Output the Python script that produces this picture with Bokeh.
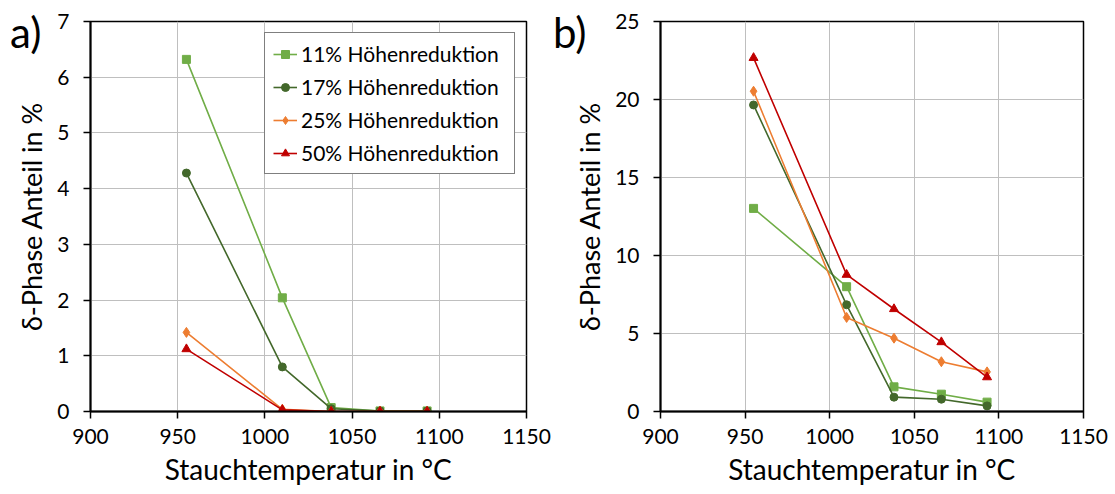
from bokeh.plotting import figure
from bokeh.layouts import row
from bokeh.models import Range1d, SingleIntervalTicker, Legend, LegendItem, Div
from bokeh.embed import file_html
from bokeh.resources import INLINE

# ---------------- data ----------------
temps = [955, 1010, 1038, 1066, 1093]
series_labels = ["11% Höhenreduktion", "17% Höhenreduktion",
                 "25% Höhenreduktion", "50% Höhenreduktion"]

a_11 = [6.32, 2.04, 0.07, 0.01, 0.01]
a_17 = [4.28, 0.80, 0.05, 0.01, 0.01]
a_25 = [1.42, 0.04, 0.00, 0.00, 0.00]
a_50 = [1.12, 0.03, 0.00, 0.00, 0.00]

b_11 = [13.02, 8.00, 1.58, 1.11, 0.60]
b_17 = [19.65, 6.84, 0.92, 0.79, 0.36]
b_25 = [20.53, 6.03, 4.70, 3.19, 2.54]
b_50 = [22.67, 8.77, 6.57, 4.45, 2.20]

x_title = "Stauchtemperatur in °C"
y_title = "δ-Phase Anteil in %"
panel_names = ["a)", "b)"]

colors = ["#70AD47", "#43682B", "#ED7D31", "#C00000"]
markers = ["square", "circle", "diamond", "triangle"]
msizes = [8, 8, 10, 9]
FONT = "Lato"


def make_panel(series, ymax, yint, width, left, right, show_legend):
    p = figure(width=width, height=494, output_backend="svg", toolbar_location=None,
               x_range=Range1d(900, 1150), y_range=Range1d(0, ymax),
               min_border_left=left, min_border_right=right,
               min_border_top=21, min_border_bottom=83)
    p.background_fill_color = "white"
    p.border_fill_color = "white"
    p.outline_line_color = "#000000"
    p.outline_line_width = 1.5

    p.xaxis.ticker = SingleIntervalTicker(interval=50)
    p.yaxis.ticker = SingleIntervalTicker(interval=yint)
    for ax in (p.xaxis[0], p.yaxis[0]):
        ax.axis_line_color = "#000000"
        ax.axis_line_width = 2
        ax.major_tick_line_color = "#000000"
        ax.major_tick_line_width = 1.5
        ax.major_tick_in = 0
        ax.major_tick_out = 7
        ax.minor_tick_line_color = None
        ax.major_label_text_font = FONT
        ax.major_label_text_font_size = "21px"
        ax.major_label_text_color = "#000000"
        ax.axis_label_text_font = FONT
        ax.axis_label_text_font_style = "normal"
        ax.axis_label_text_color = "#000000"
    p.xaxis.axis_label = x_title
    p.yaxis.axis_label = y_title
    p.xaxis.axis_label_text_font_size = "28px"
    p.yaxis.axis_label_text_font_size = "27px"
    p.xaxis.major_label_standoff = 10
    p.yaxis.major_label_standoff = 14
    p.xaxis.axis_label_standoff = 5
    p.yaxis.axis_label_standoff = 6

    p.xgrid.grid_line_color = "#BFBFBF"
    p.ygrid.grid_line_color = "#BFBFBF"
    p.xgrid.grid_line_width = 1
    p.ygrid.grid_line_width = 1

    items = []
    for vals, c, m, s, lab in zip(series, colors, markers, msizes, series_labels):
        ln = p.line(temps, vals, line_color=c, line_width=1.6)
        sc = p.scatter(temps, vals, marker=m, size=s, fill_color=c, line_color=c)
        items.append(LegendItem(label=lab, renderers=[ln, sc]))

    if show_legend:
        leg = Legend(items=items, location="top_right")
        leg.margin = 11
        leg.padding = 8
        leg.spacing = 8
        leg.glyph_width = 24
        leg.glyph_height = 20
        leg.label_height = 20
        leg.label_width = 205
        leg.label_standoff = 4
        leg.label_text_font = FONT
        leg.label_text_font_size = "21px"
        leg.label_text_color = "#000000"
        leg.border_line_color = "#000000"
        leg.border_line_width = 1
        leg.background_fill_color = "white"
        leg.background_fill_alpha = 1
        p.add_layout(leg, "center")
    return p


def panel_div(text, left_px, top_px):
    return Div(text=text, styles={
        "position": "absolute", "left": f"{left_px}px", "top": f"{top_px}px",
        "font-family": "Lato", "font-size": "42px", "line-height": "1",
        "color": "#000000", "z-index": "10", "white-space": "nowrap"})


pa = make_panel([a_11, a_17, a_25, a_50], 7, 1, 560, 90, 34, True)
pb = make_panel([b_11, b_17, b_25, b_50], 25, 5, 555, 100, 32, False)
da = panel_div(panel_names[0], 5, 6)
db = panel_div(panel_names[1], 548, 6)

layout = row(pa, pb, da, db)
open("out.html", "w").write(file_html(layout, INLINE))
